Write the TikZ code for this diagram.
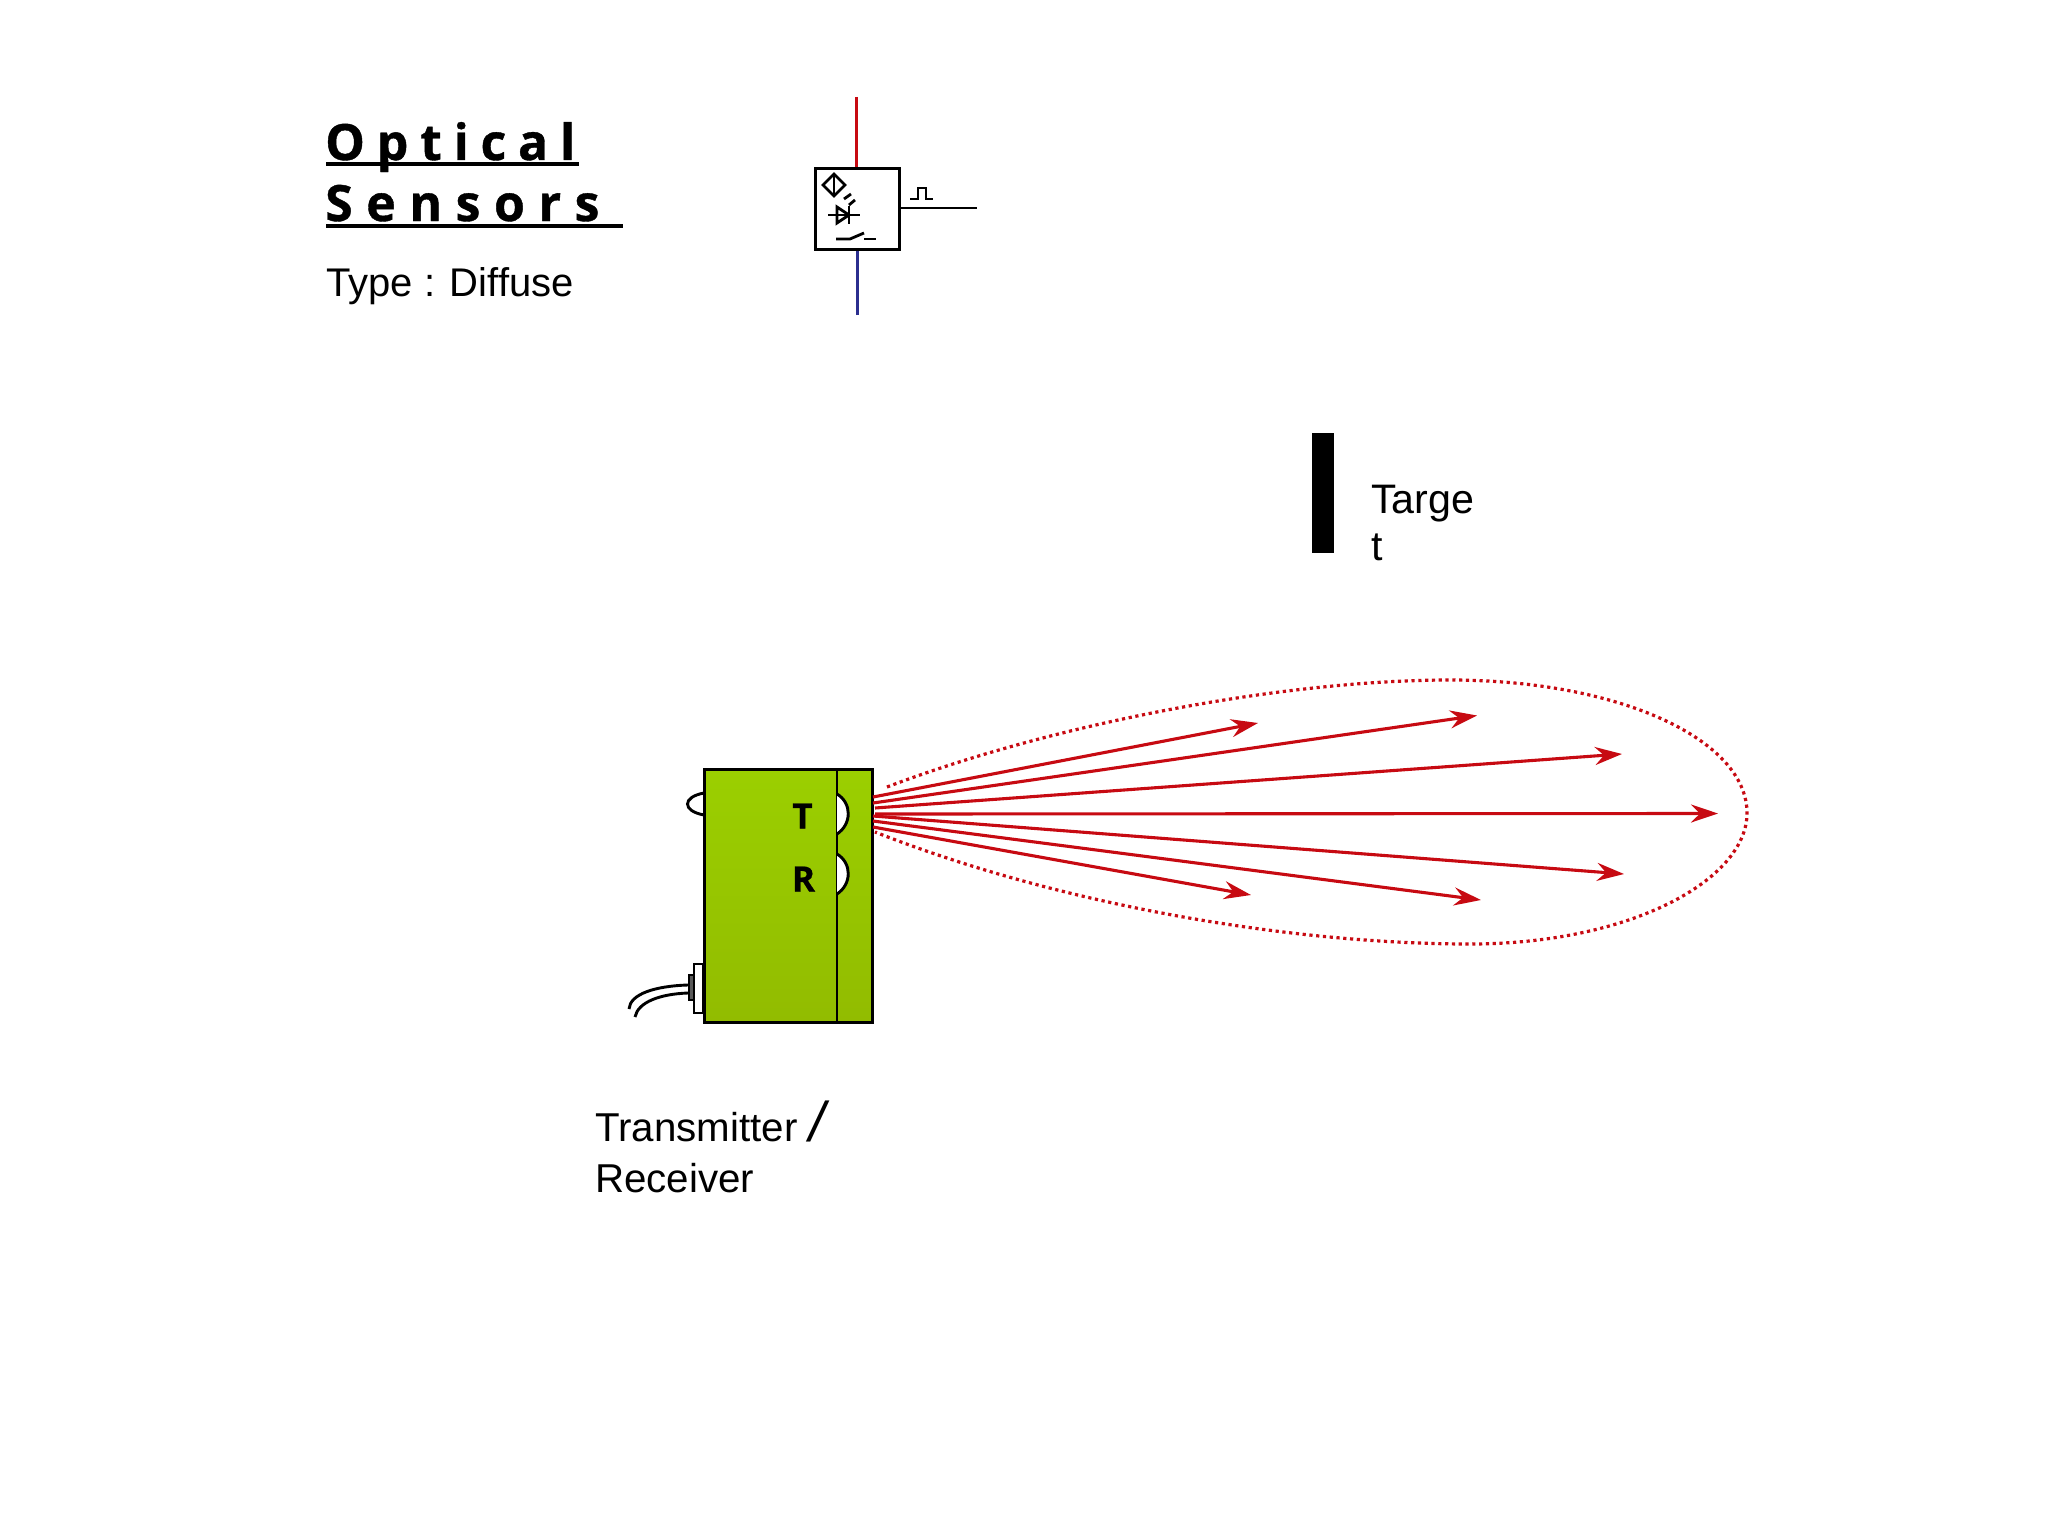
\documentclass[tikz,border=0pt]{standalone}
\usepackage{fontspec}
\setmainfont{Liberation Sans}
\newfontfamily\titlefontA[LetterSpace=23.5,BoldFont={Open Sans Bold},BoldFeatures={FakeBold=0.8}]{Open Sans}
\newfontfamily\titlefontB[LetterSpace=27,BoldFont={Open Sans Bold},BoldFeatures={FakeBold=0.8}]{Open Sans}
\newfontfamily\markfont[BoldFont={Open Sans Bold},BoldFeatures={FakeBold=0.6}]{Open Sans}
\usetikzlibrary{arrows.meta}
\definecolor{rayred}{HTML}{C70A12}
\definecolor{linkblue}{HTML}{2B2F8F}
\definecolor{boxtop}{HTML}{9BCF00}
\definecolor{boxbot}{HTML}{92BC00}
\tikzset{
  txt/.style={inner sep=0pt,anchor=base west,font=\fontsize{40.3}{41}\selectfont},
  ttl/.style={inner sep=0pt,anchor=base west,font=\fontsize{50}{50}\selectfont\bfseries},
  boxmark/.style={inner sep=0pt,font=\fontsize{35}{35}\selectfont\markfont\bfseries},
  sym/.style={line width=2.8pt,black},
  ray/.style={line width=3.1pt,rayred,-{Stealth[length=27pt,width=18pt,inset=9pt]}},
  outl/.style={line width=2.9pt,black},
  dots/.style={line width=3.2pt,rayred,dash pattern=on 3.2pt off 3.6pt},
}
\begin{document}
\begin{tikzpicture}[x=1pt,y=-1pt]
\useasboundingbox (0,0) rectangle (2048,1536);
% heading
\node[ttl] (t1) at (325,160) {\titlefontA\bfseries Optical};
\node[ttl] (t2) at (325,221) {\titlefontB\bfseries Sensors};
\node[txt,font=\fontsize{40}{41}\selectfont] (t3) at (326,296.5) {Type : Diffuse};
\fill (326,162) rectangle (579,166);
\fill (326,224) rectangle (623,228);
% symbol
\coordinate (redtop) at (856.5,97);
\coordinate (blubot) at (857,315);
\coordinate (outend) at (977,208);
\node[draw,line width=3pt,minimum width=84pt,minimum height=81pt,inner sep=0pt] (symbox) at (857,208.5) {};
\draw[line width=3pt,rayred] (redtop) -- (symbox.north -| redtop);
\draw[line width=3pt,linkblue] (blubot) -- (symbox.south -| blubot);
\draw[sym] (symbox.east |- outend) -- (outend);
\draw[sym] (910,199) -- (918,199) -- (918,188) -- (926,188) -- (926,199) -- (933,199);
\draw[sym] (834,174) -- (845,185) -- (834,196) -- (823,185) -- cycle;
\draw[sym] (834,175) -- (834,195);
\draw[sym] (844,199) -- (851,194);
\draw[sym] (849,205) -- (855,200);
\draw[sym] (828,215) -- (860,215);
\draw[sym] (837,207) -- (837,223) -- (849,215) -- cycle;
\draw[sym] (849,206) -- (849,224);
\draw[sym] (836,239) -- (850,239) -- (864,233);
\draw[sym] (864,239) -- (876,239);
% sensor body
\filldraw[outl,fill=white] (704,793) .. controls (682,797) and (682,811) .. (704,815);
\path[top color=boxtop,bottom color=boxbot] (704,769) rectangle (872,1022);
\node[draw,line width=3pt,minimum width=168pt,minimum height=253pt,inner sep=0pt] (body) at (788,895.5) {};
\draw[outl] (837,769) -- (837,1022);
\filldraw[outl,fill=white] (837,794) .. controls (852,803) and (852,824) .. (837,834);
\filldraw[outl,fill=white] (837,854) .. controls (852,863) and (852,884) .. (837,894);
\node[boxmark] (labT) at (802.5,816) {T};
\node[boxmark] (labR) at (803.5,879) {R};
% connector and cable
\filldraw[outl,fill=white] (703,964) rectangle (694,1013);
\filldraw[line width=2.4pt,draw=black,fill=black!65] (694,975) rectangle (689,1000);
\coordinate (cab1) at (688,985);
\coordinate (cab2) at (688,993);
\draw[outl] (cab1) .. controls (655,986) and (630,994) .. (629,1009);
\draw[outl] (cab2) .. controls (660,994) and (638,1002) .. (635,1017);
% lobe
\coordinate (lobeA) at (887,787);
\coordinate (lobeB) at (875,832);
\draw[dots] (lobeA) .. controls (1050,725) and (1280,680) .. (1450,680)
  .. controls (1620,680) and (1747,740) .. (1747,813)
  .. controls (1747,880) and (1630,944) .. (1470,944)
  .. controls (1290,944) and (1060,905) .. (lobeB);
% rays
\foreach \n/\sx/\sy/\ex/\ey in {a/873/797/1258/723,b/873/803/1477/715.5,c/875/808/1622/754,d/875/814/1718/813.5,e/873/816/1624/874,f/873/821/1481/900,g/873/827/1251/895}{
  \coordinate (s\n) at (\sx,\sy);
  \coordinate (e\n) at (\ex,\ey);
  \draw[ray] (s\n) -- (e\n);
}
% target
\fill[black] (1312,433) rectangle (1334,553);
\node[txt,font=\fontsize{41.2}{41}\selectfont] (tg1) at (1371,513) {Targe};
\node[txt,font=\fontsize{41.2}{41}\selectfont] (tg2) at (1371,560) {t};
% caption
\node[txt] (c1) at (595,1141) {Transmitter};
\node[inner sep=0pt,anchor=base west,font=\fontsize{56}{56}\selectfont\itshape] (c1s) at (809,1141) {/};
\node[txt] (c2) at (595,1192) {Receiver};
\end{tikzpicture}
\end{document}
